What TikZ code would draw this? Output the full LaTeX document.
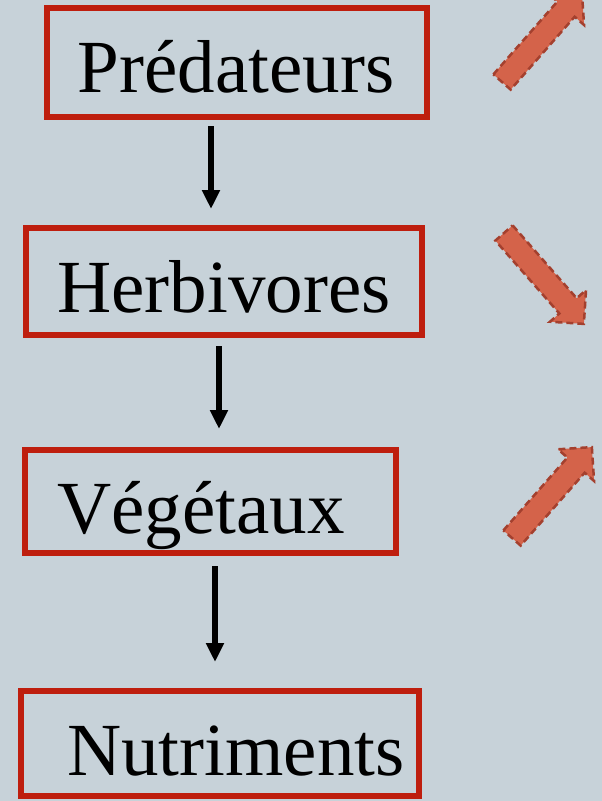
\documentclass[tikz,border=0pt]{standalone}
\usepackage{fontspec}
\setmainfont{Liberation Serif}
\usetikzlibrary{arrows.meta}
\definecolor{bg}{HTML}{C7D2D9}
\definecolor{boxred}{HTML}{BE1E0E}
\definecolor{fatfill}{HTML}{D4634A}
\definecolor{fatline}{HTML}{A4402E}
\tikzset{
  levelbox/.style={draw=boxred, line width=6pt},
  label/.style={anchor=base, inner sep=0pt, font=\fontsize{75}{80}\selectfont},
  down/.style={-{Triangle[width=17pt,length=19pt]}, line width=5.5pt, black},
  fat/.style={fill=fatfill, draw=fatline, line width=2.5pt, dash pattern=on 7pt off 4pt},
}
\begin{document}
\begin{tikzpicture}[x=1pt,y=-1pt]
\fill[bg] (0,0) rectangle (602,801);
\useasboundingbox (0,0) rectangle (602,801);

\draw[levelbox] (47,8) rectangle (427,117);
\draw[levelbox] (26,228) rectangle (422,335);
\draw[levelbox] (25,450) rectangle (396,553);
\draw[levelbox] (21,691) rectangle (419,796);

\node[label] (pred) at (236,92) {Prédateurs};
\node[label] (herb) at (224,312) {Herbivores};
\node[label] (veg) at (201,533) {Végétaux};
\node[label] (nut) at (236,775) {Nutriments};

\coordinate (a1s) at (211,126); \coordinate (a1e) at (211,209);
\coordinate (a2s) at (219,346); \coordinate (a2e) at (219,429);
\coordinate (a3s) at (215,566); \coordinate (a3e) at (215,662);
\draw[down] (a1s) -- (a1e);
\draw[down] (a2s) -- (a2e);
\draw[down] (a3s) -- (a3e);

\foreach \px/\py/\ang in {502/82/48.7, 504/233/-48.7, 512/538/48.7}{
  \begin{scope}[shift={(\px,\py)}, rotate=\ang]
    \draw[fat] (0,-11.5) -- (97,-11.5) -- (97,-24) -- (121,0) -- (97,24) -- (97,11.5) -- (0,11.5) -- cycle;
  \end{scope}
}
\end{tikzpicture}
\end{document}
